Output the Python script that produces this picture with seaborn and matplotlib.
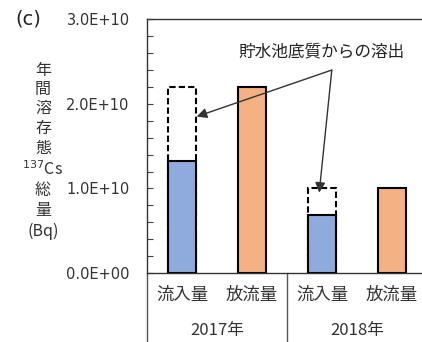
import matplotlib
matplotlib.use("Agg")
import matplotlib.pyplot as plt
import matplotlib.transforms as mtransforms
from matplotlib.lines import Line2D
from matplotlib.ticker import MultipleLocator, FuncFormatter
import seaborn as sns
import pandas as pd

# Annual dissolved 137Cs totals (Bq)
years = ["2017年", "2018年"]
kinds = ["流入量", "放流量"]
inflow_measured = [1.32e10, 0.69e10]
inflow_with_elution = [2.20e10, 1.01e10]
outflow = [2.20e10, 1.01e10]
annotation_text = "貯水池底質からの溶出"

slots = [f"{y}{k}" for y in years for k in kinds]
inflow_slots = [f"{y}{kinds[0]}" for y in years]
outflow_slots = [f"{y}{kinds[1]}" for y in years]

df_total = pd.DataFrame({"slot": inflow_slots, "value": inflow_with_elution})
df_in = pd.DataFrame({"slot": inflow_slots, "value": inflow_measured})
df_out = pd.DataFrame({"slot": outflow_slots, "value": outflow})

sns.set_theme(style="white")
plt.rcParams["font.family"] = ["Noto Sans CJK JP", "DejaVu Sans"]

W, H = 422, 342
fig = plt.figure(figsize=(W / 100, H / 100), dpi=100)
ax_left, ax_right, ax_top, ax_bottom = 147, 422, 19.3, 273
ax = fig.add_axes([ax_left / W, (H - ax_bottom) / H,
                   (ax_right - ax_left) / W, (ax_bottom - ax_top) / H])

bar_w = 0.41
blue = "#8FAADC"
orange = "#F4B183"

sns.barplot(data=df_total, x="slot", y="value", order=slots, ax=ax,
            color="white", edgecolor="black", linewidth=1.5, width=bar_w,
            linestyle=(0, (3, 1.5)), errorbar=None, saturation=1)
sns.barplot(data=df_in, x="slot", y="value", order=slots, ax=ax,
            color=blue, edgecolor="black", linewidth=1.5, width=bar_w,
            errorbar=None, saturation=1)
sns.barplot(data=df_out, x="slot", y="value", order=slots, ax=ax,
            color=orange, edgecolor="black", linewidth=1.5, width=bar_w,
            errorbar=None, saturation=1)

ax.set_xlim(-0.5, -0.5 + (ax_right - ax_left) / 70)
ax.set_ylim(0, 3.0e10)
ax.set_xlabel("")
ax.set_ylabel("")

# y axis: labelled every 1E10, small inward ticks every 2E9
ax.yaxis.set_major_locator(MultipleLocator(1.0e10))
ax.yaxis.set_minor_locator(MultipleLocator(2.0e9))
ax.yaxis.set_major_formatter(FuncFormatter(lambda v, p: f"{v:.1E}"))
ax.tick_params(axis="y", which="both", direction="in", length=4, width=0.8,
               color="#444444", left=True)
ax.tick_params(axis="y", which="major", pad=12.5, labelsize=10.5,
               labelcolor="#333333", labelfontfamily="DejaVu Sans")

# x axis: kind labels under each bar
ax.set_xticks(range(len(slots)))
ax.set_xticklabels([k for _ in years for k in kinds])
ax.tick_params(axis="x", length=0, pad=9, labelsize=12.5, labelcolor="#333333")

for side in ["left", "top", "bottom"]:
    ax.spines[side].set_visible(True)
    ax.spines[side].set_color("#333333")
    ax.spines[side].set_linewidth(1.0)
ax.spines["right"].set_visible(False)

# year group labels and separators below the axis
trans = mtransforms.blended_transform_factory(ax.transData, ax.transAxes)
for i, y in enumerate(years):
    ax.text(2 * i + 0.5, -0.225, y, transform=trans, ha="center", va="center",
            fontsize=12, color="#333333")
bottom_axes = -(H - ax_bottom) / (ax_bottom - ax_top)
for xs in [-0.5, 1.5]:
    ax.add_line(Line2D([xs, xs], [0, bottom_axes], transform=trans,
                       color="#555555", lw=1.0, clip_on=False))

# annotation with two arrows
ax.text(2.0, 2.62e10, annotation_text, ha="center", va="center",
        fontsize=12, color="#222222")
start = (2.14, 2.40e10)
for tip in [(0.21, 1.85e10), (1.96, 0.95e10)]:
    ax.annotate("", xy=tip, xytext=start,
                arrowprops=dict(arrowstyle="-|>", color="#333333", lw=1.0,
                                mutation_scale=15, shrinkA=0, shrinkB=0))

# panel tag and stacked vertical y label
fig.text(28 / W, 1 - 19 / H, "(c)", ha="center", va="center", fontsize=14,
         color="#222222", family="DejaVu Sans")
ylabel_lines = ["年", "間", "溶", "存", "態", r"$^{137}$Cs", "総", "量", "(Bq)"]
ylab_pos = [70, 89, 108, 128, 148, 170, 191, 211, 231]
for txt, py in zip(ylabel_lines, ylab_pos):
    fig.text(43 / W, 1 - py / H, txt, ha="center", va="center", fontsize=11.5,
             color="#333333")

fig.savefig("out.png", dpi=100)
